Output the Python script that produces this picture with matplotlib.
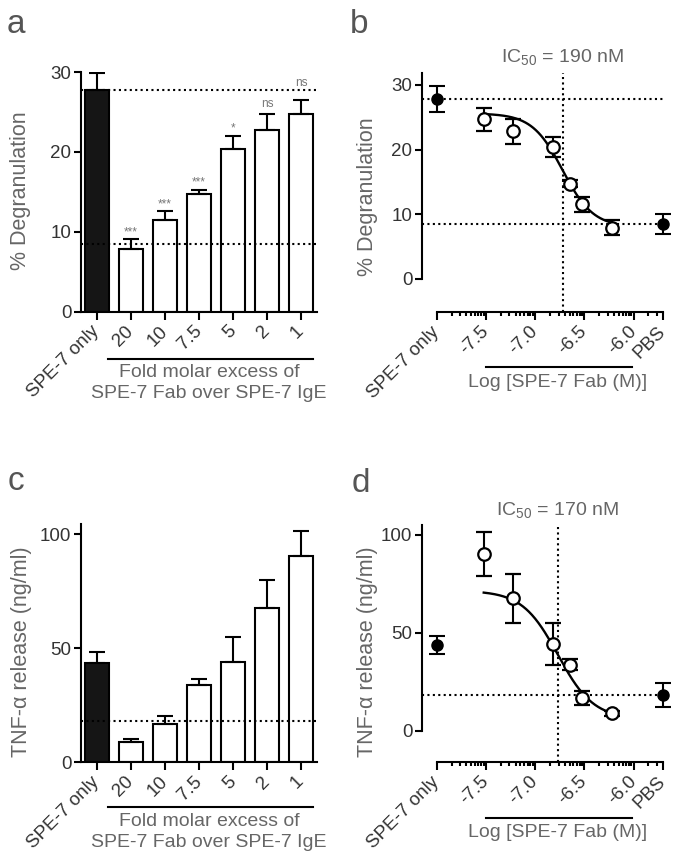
import numpy as np
import matplotlib
matplotlib.use("Agg")
import matplotlib.pyplot as plt
from matplotlib.transforms import blended_transform_factory

plt.rcParams["font.family"] = ["Liberation Sans", "DejaVu Sans"]
plt.rcParams["mathtext.fontset"] = "custom"
plt.rcParams["mathtext.rm"] = "Liberation Sans"

# Data
fold_excess = [20, 10, 7.5, 5, 2, 1]
bar_labels = ["SPE-7 only", "20", "10", "7.5", "5", "2", "1"]
ige_conc = 3e-8  # M, SPE-7 IgE

degran_mean = [7.9, 11.5, 14.7, 20.4, 22.8, 24.7]
degran_sem = [1.2, 1.15, 0.55, 1.55, 1.9, 1.8]
degran_spe_only = (27.8, 2.05)
degran_pbs = (8.5, 1.55)
degran_sig = ["***", "***", "***", "*", "ns", "ns"]

tnf_mean = [9.0, 16.8, 33.7, 44.2, 67.6, 90.3]
tnf_sem = [1.3, 3.5, 2.8, 10.8, 12.4, 11.3]
tnf_spe_only = (43.7, 4.5)
tnf_pbs = (18.2, 6.3)

# 4PL fits: top, bottom, IC50 (nM), hill
degran_fit = (25.6, 8.0, 190, 2.8)
tnf_fit = (71.5, 6.0, 170, 2.4)

log_ticks = [-8.0, -7.5, -7.0, -6.5, -6.0, -5.7]
log_ticklabels = ["SPE-7 only", "-7.5", "-7.0", "-6.5", "-6.0", "PBS"]

W, H = 678, 865
fig = plt.figure(figsize=(W / 100, H / 100), dpi=100)

TXT = "#666666"
TICK = "#333333"
DOT = (0, (1, 1.6))
LW = 1.5
GROUP_LABEL = "Fold molar excess of\nSPE-7 Fab over SPE-7 IgE"


def px_axes(left, right, bottom, top):
    return fig.add_axes([left / W, 1 - bottom / H, (right - left) / W, (bottom - top) / H])


def style(ax):
    for s in ("top", "right"):
        ax.spines[s].set_visible(False)
    for s in ("left", "bottom"):
        ax.spines[s].set_linewidth(LW)
    ax.tick_params(width=LW, length=5, labelsize=13.5, labelcolor=TICK, pad=2)


def bar_panel(ax, mean, sem, spe, pbs, ylim, yticks, sig=None, sig_y=None):
    vals = [spe[0]] + list(mean)
    errs = [spe[1]] + list(sem)
    x = np.arange(len(vals))
    ax.bar(x, vals, width=0.7, color=["#151515"] + ["white"] * len(mean),
           edgecolor="black", linewidth=LW, zorder=2)
    ax.errorbar(x, vals, yerr=[np.zeros(len(vals)), errs], fmt="none", ecolor="black",
                elinewidth=LW, capsize=6, capthick=LW, zorder=3)
    if sig is not None:
        ax.axhline(spe[0], color="black", ls=DOT, lw=LW, zorder=4)
        for xi, s, yy in zip(x[1:], sig, sig_y):
            ax.text(xi, yy, s, ha="center", va="center", fontsize=8.5, color="#777777")
    ax.axhline(pbs[0], color="black", ls=DOT, lw=LW, zorder=4)
    ax.set_xlim(-0.47, len(vals) - 0.53)
    ax.set_ylim(*ylim)
    ax.set_yticks(yticks)
    ax.set_xticks(x)
    ax.set_xticklabels(bar_labels, rotation=45, ha="right", va="center",
                       rotation_mode="anchor")
    style(ax)
    ax.tick_params(axis="x", length=6, pad=6)
    return blended_transform_factory(ax.transData, ax.transAxes)


def curve_panel(ax, mean, sem, spe, pbs, fit, ylim, yticks, show_top_line):
    xs = np.log10(np.array(fold_excess) * ige_conc)
    top, bottom, ic50, hill = fit
    logic50 = np.log10(ic50 * 1e-9)
    xc = np.linspace(xs.min(), xs.max(), 200)
    yc = bottom + (top - bottom) / (1 + 10 ** ((xc - logic50) * hill))
    ax.axvline(logic50, color="black", ls=DOT, lw=LW, zorder=1)
    if show_top_line:
        ax.hlines(spe[0], -8.15, log_ticks[-1], color="black", ls=DOT, lw=LW, zorder=1)
    ax.hlines(pbs[0], -8.15, log_ticks[-1], color="black", ls=DOT, lw=LW, zorder=1)
    ax.plot(xc, yc, color="black", lw=1.7, zorder=2)
    ax.errorbar(xs, mean, yerr=sem, fmt="o", ms=9, mfc="white", mec="black", mew=1.6,
                ecolor="black", elinewidth=LW, capsize=6, capthick=LW, zorder=3)
    ax.errorbar([log_ticks[0], log_ticks[-1]], [spe[0], pbs[0]], yerr=[spe[1], pbs[1]],
                fmt="o", ms=8, mfc="black", mec="black", ecolor="black",
                elinewidth=LW, capsize=6, capthick=LW, zorder=3)
    ax.set_xlim(-8.15, -5.6)
    ax.set_ylim(*ylim)
    ax.set_yticks(yticks)
    ax.spines["left"].set_bounds(0, ylim[1])
    ax.spines["bottom"].set_bounds(log_ticks[0], log_ticks[-1])
    ax.set_xticks(log_ticks)
    ax.set_xticklabels(log_ticklabels, rotation=45, ha="right", va="center",
                       rotation_mode="anchor")
    minor = []
    for a in np.arange(-8.0, -5.9, 0.5):
        for k in range(2, 10):
            m = a + 0.5 * np.log10(k)
            if m < log_ticks[-1] - 0.01:
                minor.append(m)
    ax.set_xticks(minor, minor=True)
    style(ax)
    ax.tick_params(axis="x", which="major", length=6, pad=6)
    ax.tick_params(axis="x", which="minor", length=3, width=LW)
    tr = blended_transform_factory(ax.transData, ax.transAxes)
    ax.text(logic50, 1.06, r"IC$_{\mathregular{50}}$ = " + f"{ic50} nM",
            transform=tr, ha="center", va="center", fontsize=14, color=TXT)
    return tr


# Panel a
ax_a = px_axes(81, 317, 312, 72)
tr = bar_panel(ax_a, degran_mean, degran_sem, degran_spe_only, degran_pbs, (0, 30),
               [0, 10, 20, 30], degran_sig, [9.9, 13.5, 16.2, 23.0, 26.0, 28.6])
ax_a.plot([0.31, 6.36], [-0.194, -0.194], color="black", lw=LW, transform=tr, clip_on=False)
ax_a.text(3.29, -0.218, GROUP_LABEL, transform=tr,
          ha="center", va="top", fontsize=14, color=TXT, linespacing=1.3)

# Panel c
ax_c = px_axes(81, 317, 762.3, 524.3)
tr = bar_panel(ax_c, tnf_mean, tnf_sem, tnf_spe_only, tnf_pbs, (0, 104.4), [0, 50, 100])
ax_c.plot([0.31, 6.36], [-0.189, -0.189], color="black", lw=LW, transform=tr, clip_on=False)
ax_c.text(3.29, -0.213, GROUP_LABEL, transform=tr,
          ha="center", va="top", fontsize=14, color=TXT, linespacing=1.3)

# Panel b
ax_b = px_axes(422, 673, 312.3, 72.7)
tr = curve_panel(ax_b, degran_mean, degran_sem, degran_spe_only, degran_pbs, degran_fit,
                 (-5.2, 31.9), [0, 10, 20, 30], True)
ax_b.plot([-7.5, -6.02], [-0.227, -0.227], color="black", lw=LW, transform=tr, clip_on=False)
ax_b.text(-6.77, -0.258, "Log [SPE-7 Fab (M)]", transform=tr, ha="center", va="top",
          fontsize=14, color=TXT)

# Panel d
ax_d = px_axes(422, 673, 762.3, 525)
tr = curve_panel(ax_d, tnf_mean, tnf_sem, tnf_spe_only, tnf_pbs, tnf_fit,
                 (-16.1, 105), [0, 50, 100], False)
ax_d.plot([-7.5, -6.02], [-0.233, -0.233], color="black", lw=LW, transform=tr, clip_on=False)
ax_d.text(-6.77, -0.262, "Log [SPE-7 Fab (M)]", transform=tr, ha="center", va="top",
          fontsize=14, color=TXT)

# Y labels
for x, y, s in [(21, 191, "% Degranulation"), (367, 197, "% Degranulation"),
                (22, 652, "TNF-\u03b1 release (ng/ml)"), (368, 652, "TNF-\u03b1 release (ng/ml)")]:
    fig.text(x / W, 1 - y / H, s, rotation=90, ha="center", va="center", fontsize=15.5, color=TXT)

# Panel letters
for x, y, s in [(7, 33, "a"), (350, 33, "b"), (8, 490, "c"), (352, 492, "d")]:
    fig.text(x / W, 1 - y / H, s, ha="left", va="baseline", fontsize=24, color="#555555")

fig.savefig("out.png", dpi=100)
